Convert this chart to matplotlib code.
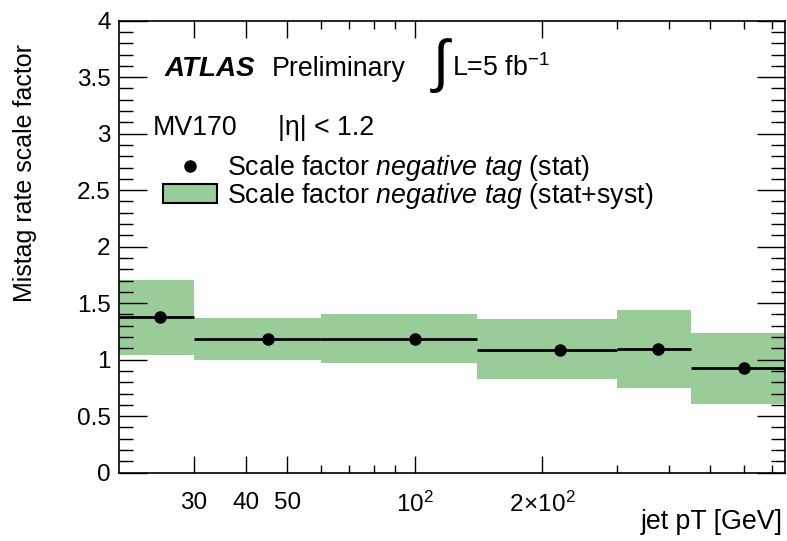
import matplotlib
matplotlib.use("Agg")
import matplotlib.pyplot as plt
from matplotlib.ticker import FixedLocator, NullFormatter, MultipleLocator
from matplotlib.lines import Line2D
from matplotlib.patches import Patch
import numpy as np

plt.rcParams['font.family'] = ['Liberation Sans', 'DejaVu Sans']
plt.rcParams['mathtext.fontset'] = 'custom'
plt.rcParams['mathtext.rm'] = 'Liberation Sans'
plt.rcParams['mathtext.it'] = 'Liberation Sans:italic'
plt.rcParams['mathtext.bf'] = 'Liberation Sans:bold'

# ---- data ----
bin_low = [20, 30, 60, 140, 300, 450]
bin_high = [30, 60, 140, 300, 450, 750]
pt_center = [25, 45, 100, 220, 375, 600]
sf_value = [1.38, 1.18, 1.185, 1.09, 1.095, 0.925]
syst_up = [1.705, 1.37, 1.405, 1.36, 1.44, 1.24]
syst_down = [1.045, 0.995, 0.97, 0.83, 0.75, 0.605]

x_major_ticks = [30, 40, 50, 100, 200]
x_major_labels = ['30', '40', '50', r'$10^{2}$', r'$2\!\times\!10^{2}$']
x_minor_ticks = [60, 70, 80, 90, 300, 400, 500, 600, 700]

W, H = 787, 541
fig = plt.figure(figsize=(W / 100, H / 100), dpi=100)
ax = fig.add_axes([119 / W, 1 - 472.7 / H, (785 - 119) / W, (472.7 - 20.7) / H])

green = '#99cc99'
FS_TICK = 17.5
FS = 19.3

lo = np.array(bin_low, float)
hi = np.array(bin_high, float)
up = np.array(syst_up)
dn = np.array(syst_down)
ax.bar(lo, up - dn, bottom=dn, width=hi - lo, align='edge', color=green, edgecolor='none', linewidth=0, zorder=1)
ax.hlines(sf_value, lo, hi, colors='black', linewidth=2, zorder=2)
ax.plot(pt_center, sf_value, 'o', color='black', markersize=8, zorder=3)

ax.set_xscale('log')
ax.set_xlim(20, 750)
ax.set_ylim(0, 4)

ax.xaxis.set_major_locator(FixedLocator(x_major_ticks))
ax.xaxis.set_major_formatter(matplotlib.ticker.FixedFormatter(x_major_labels))
ax.xaxis.set_minor_locator(FixedLocator(x_minor_ticks))
ax.xaxis.set_minor_formatter(NullFormatter())
ax.yaxis.set_major_locator(MultipleLocator(0.5))
ax.yaxis.set_minor_locator(MultipleLocator(0.1))
ax.yaxis.set_major_formatter(matplotlib.ticker.FuncFormatter(lambda v, p: ('%g' % v)))

ax.tick_params(axis='both', which='both', direction='in', top=True, right=True, color='black')
ax.tick_params(axis='x', which='major', length=12, width=1, labelsize=FS_TICK, pad=14)
ax.tick_params(axis='x', which='minor', length=6, width=1)
ax.tick_params(axis='y', which='major', length=20, width=1, labelsize=FS_TICK, pad=6)
ax.tick_params(axis='y', which='minor', length=10, width=1)
for s in ax.spines.values():
    s.set_linewidth(1.2)

fig.text(25 / W, 1 - 173 / H, 'Mistag rate scale factor', rotation=90, ha='center', va='center', fontsize=18)
fig.text(783 / W, 1 - 522 / H, 'jet pT [GeV]', ha='right', va='center', fontsize=FS)

fig.text(165 / W, 1 - 76 / H, 'ATLAS', fontsize=20, fontweight='bold', fontstyle='italic', ha='left', va='baseline')
fig.text(272 / W, 1 - 76 / H, 'Preliminary', fontsize=FS, ha='left', va='baseline')
fig.text(441 / W, 1 - 66 / H, '∫', fontsize=42, ha='center', va='center', family='Liberation Sans')
fig.text(452 / W, 1 - 76 / H, r'L=5 fb$^{-1}$', fontsize=FS, ha='left', va='baseline')
fig.text(153 / W, 1 - 135 / H, 'MV170', fontsize=FS, ha='left', va='baseline')
fig.text(278 / W, 1 - 135 / H, '|η| < 1.2', fontsize=FS, ha='left', va='baseline')

handles = [Line2D([], [], marker='o', color='black', linestyle='none', markersize=8),
           Patch(facecolor=green, edgecolor='black', linewidth=1.5)]
labels = [r'Scale factor $\it{negative\ tag}$ (stat)',
          r'Scale factor $\it{negative\ tag}$ (stat+syst)']
leg = fig.legend(handles, labels, loc='upper left', bbox_to_anchor=(163 / W, 1 - 153 / H),
                 frameon=False, fontsize=FS, handlelength=2.0, handleheight=0.72,
                 handletextpad=0.4, labelspacing=-0.08, borderpad=0, borderaxespad=0)

fig.savefig('out.png', dpi=100)
